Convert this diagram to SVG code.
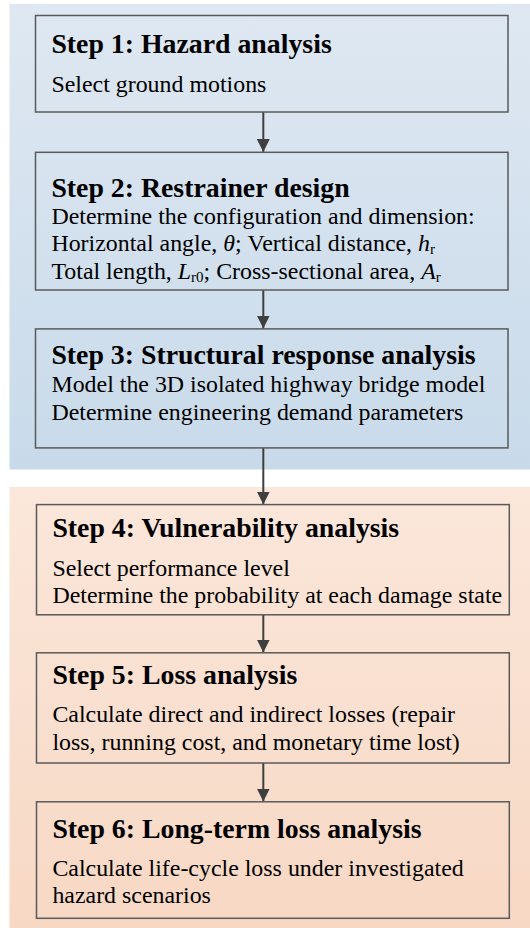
<svg xmlns="http://www.w3.org/2000/svg" width="530" height="928" viewBox="0 0 530 928">
<defs>
<linearGradient id="gBlue" x1="0" y1="0" x2="0" y2="1">
<stop offset="0" stop-color="#dfe8f2"/>
<stop offset="1" stop-color="#c8daea"/>
</linearGradient>
<linearGradient id="gOrange" x1="0" y1="0" x2="0" y2="1">
<stop offset="0" stop-color="#fbe7db"/>
<stop offset="1" stop-color="#f7d8c4"/>
</linearGradient>
<marker id="arr" viewBox="0 0 10 10" refX="10" refY="5" markerWidth="6.5" markerHeight="6.5" markerUnits="strokeWidth" orient="auto">
<path d="M0,0 L10,5 L0,10 Z" fill="#3f3f3f"/>
</marker>
<style>
.box{fill:none;stroke:#5a5a5a;stroke-width:1.5}
.t{font-family:"Liberation Serif","Times New Roman",serif;font-weight:bold;font-size:27.8px;fill:#000}
.b{font-family:"Liberation Serif","Times New Roman",serif;font-size:23.9px;fill:#000}
.i{font-style:italic}
.sub{font-size:15px}
.c{stroke:#3f3f3f;stroke-width:2;fill:none}
</style>
</defs>
<rect x="9.5" y="4" width="520.5" height="465.5" fill="url(#gBlue)"/>
<rect x="9.5" y="487" width="520.5" height="441" fill="url(#gOrange)"/>
<g id="connectors">
<line class="c" x1="263.3" y1="112" x2="263.3" y2="152" marker-end="url(#arr)"/>
<line class="c" x1="263.3" y1="290" x2="263.3" y2="328.5" marker-end="url(#arr)"/>
<line class="c" x1="263.3" y1="448" x2="263.3" y2="504.5" marker-end="url(#arr)"/>
<line class="c" x1="263.3" y1="615" x2="263.3" y2="652.5" marker-end="url(#arr)"/>
<line class="c" x1="263.3" y1="763" x2="263.3" y2="801.5" marker-end="url(#arr)"/>
</g>
<g id="step1">
<rect class="box" x="35.5" y="15.5" width="472.5" height="96.5"/>
<text class="t" x="51.4" y="53.4">Step 1: Hazard analysis</text>
<text class="b" x="51.4" y="92">Select ground motions</text>
</g>
<g id="step2">
<rect class="box" x="35.5" y="152.3" width="472.5" height="137.7"/>
<text class="t" x="51.4" y="197">Step 2: Restrainer design</text>
<text class="b" x="51.4" y="223.6">Determine the configuration and dimension:</text>
<text class="b" x="51.4" y="251">Horizontal angle, <tspan class="i">θ</tspan>; Vertical distance, <tspan class="i">h</tspan><tspan class="sub" dy="3">r</tspan></text>
<text class="b" x="51.4" y="278.7">Total length, <tspan class="i">L</tspan><tspan class="sub" dy="3">r0</tspan><tspan dy="-3">; Cross-sectional area, </tspan><tspan class="i">A</tspan><tspan class="sub" dy="3">r</tspan></text>
</g>
<g id="step3">
<rect class="box" x="35.5" y="328.9" width="472.5" height="119"/>
<text class="t" x="51.4" y="363.7">Step 3: Structural response analysis</text>
<text class="b" x="51.4" y="392.1">Model the 3D isolated highway bridge model</text>
<text class="b" x="51.4" y="419.5">Determine engineering demand parameters</text>
</g>
<g id="step4">
<rect class="box" x="36.5" y="504.6" width="472.8" height="110.2"/>
<text class="t" x="52.4" y="537">Step 4: Vulnerability analysis</text>
<text class="b" x="52.4" y="575.6">Select performance level</text>
<text class="b" x="52.4" y="603">Determine the probability at each damage state</text>
</g>
<g id="step5">
<rect class="box" x="36.5" y="652.8" width="472.8" height="110.2"/>
<text class="t" x="52.4" y="684.2">Step 5: Loss analysis</text>
<text class="b" x="52.4" y="722.4">Calculate direct and indirect losses (repair</text>
<text class="b" x="52.4" y="750.2">loss, running cost, and monetary time lost)</text>
</g>
<g id="step6">
<rect class="box" x="36.5" y="801.8" width="472.8" height="116.5"/>
<text class="t" x="52.4" y="837.6">Step 6: Long-term loss analysis</text>
<text class="b" x="52.4" y="875.5">Calculate life-cycle loss under investigated</text>
<text class="b" x="52.4" y="902.9">hazard scenarios</text>
</g>
</svg>
